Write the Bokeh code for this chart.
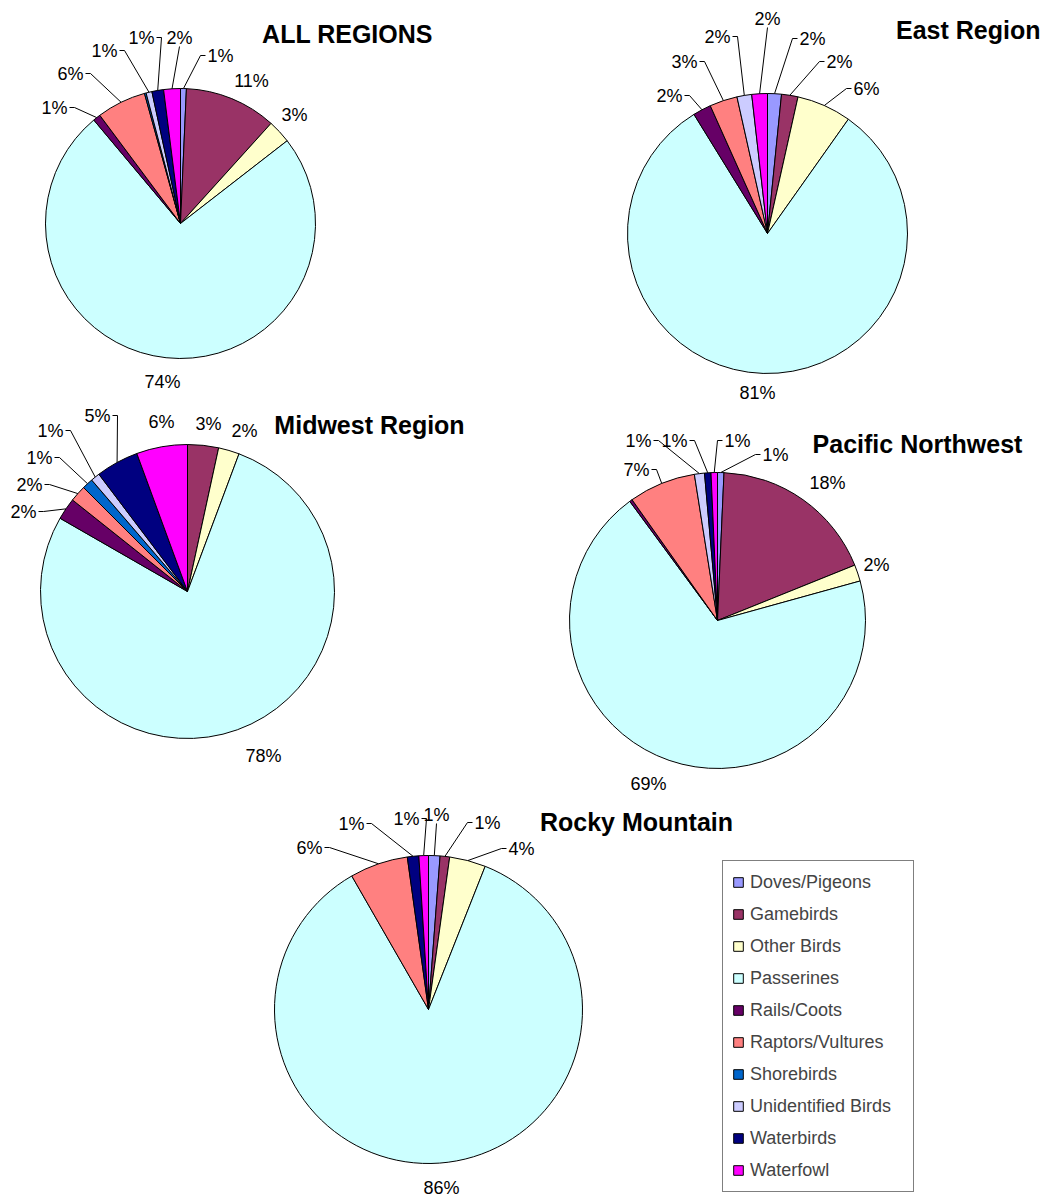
import math
from bokeh.plotting import figure
from bokeh.models import Range1d, ColumnDataSource, Legend, LegendItem
from bokeh.embed import file_html
from bokeh.resources import INLINE
from bokeh.core.properties import value

# ---------------- data ----------------
categories = ["Doves/Pigeons", "Gamebirds", "Other Birds", "Passerines", "Rails/Coots",
              "Raptors/Vultures", "Shorebirds", "Unidentified Birds", "Waterbirds", "Waterfowl"]
colors = ["#9999FF", "#993366", "#FFFFCC", "#CCFFFF", "#660066",
          "#FF8080", "#0066CC", "#CCCCFF", "#000080", "#FF00FF"]

regions = ["ALL REGIONS", "East Region", "Midwest Region", "Pacific Northwest", "Rocky Mountain"]
all_regions = [0.7, 11.0, 2.8, 74.4, 0.9, 5.9, 0.2, 0.7, 1.4, 2.0]
east = [1.6, 1.9, 6.3, 81.4, 2.1, 3.2, 0.0, 1.7, 0.0, 1.8]
midwest = [0.0, 3.4, 2.3, 77.6, 2.4, 1.8, 1.2, 1.0, 4.7, 5.6]
pacific_nw = [0.7, 18.2, 1.8, 69.2, 0.3, 7.3, 0.0, 1.1, 0.7, 0.7]
rocky = [1.2, 1.0, 3.8, 85.7, 0.0, 6.1, 0.0, 0.0, 1.2, 1.0]
values = [all_regions, east, midwest, pacific_nw, rocky]

# ---------------- layout (page pixel coordinates) ----------------
W, H = 1044, 1200
FONT = "Liberation Sans"
pies = [
    dict(c=(180, 223), r=135, title=(347, 33, "center"),
         labels={0: (220, 55, True), 1: (251, 80, False), 2: (294, 114, False), 3: (162, 381, False),
                 4: (54, 107, True), 5: (70, 73, True), 7: (104, 50, True), 8: (141, 37, True),
                 9: (179, 37, True)}),
    dict(c=(767, 233), r=140, title=(1040, 29, "right"),
         labels={0: (812, 38, True), 1: (839, 61, True), 2: (866, 88, True), 3: (757, 392, False),
                 4: (669, 95, True), 5: (684, 61, True), 7: (717, 36, True), 9: (767, 18, True)}),
    dict(c=(187, 591), r=147, title=(369, 424, "center"),
         labels={1: (208, 423, False), 2: (244, 430, False), 3: (263, 755, False), 4: (23, 511, True),
                 5: (29, 484, True), 6: (39, 457, True), 7: (50, 430, True), 8: (97, 415, True),
                 9: (161, 421, False)}),
    dict(c=(717, 620), r=148, title=(917, 443, "center"),
         labels={0: (775, 454, True), 1: (827, 482, False), 2: (876, 564, False), 3: (648, 783, False),
                 5: (636, 469, True), 7: (638, 440, True), 8: (674, 440, True), 9: (737, 440, True)}),
    dict(c=(428, 1009), r=154, title=(636, 821, "center"),
         labels={0: (436, 814, True), 1: (487, 822, True), 2: (521, 848, True), 3: (441, 1187, False),
                 5: (309, 847, True), 8: (351, 823, True), 9: (406, 818, True)}),
]

X0, Y0 = 0, 0  # figure origin on the page


def Y(py):
    return -py


p = figure(width=W, height=H, output_backend="svg", toolbar_location=None,
           x_range=Range1d(X0, X0 + W), y_range=Range1d(-(Y0 + H), -Y0),
           min_border=0, outline_line_color=None)
p.axis.visible = False
p.grid.visible = False
p.background_fill_color = "white"

# wedge data per category (one renderer per category across all pies)
cat_src = {k: dict(x=[], y=[], r=[], sa=[], ea=[]) for k in range(len(categories))}
mids = []
for pi, (pie, vals) in enumerate(zip(pies, values)):
    tot = float(sum(vals))
    cum = 0.0
    m = {}
    for k, v in enumerate(vals):
        f0 = cum / tot
        cum += v
        f1 = cum / tot
        m[k] = (f0 + f1) / 2
        if v <= 0:
            continue
        d = cat_src[k]
        d["x"].append(pie["c"][0])
        d["y"].append(Y(pie["c"][1]))
        d["r"].append(pie["r"])
        d["sa"].append(math.pi / 2 - 2 * math.pi * f0)
        d["ea"].append(math.pi / 2 - 2 * math.pi * f1)
    mids.append(m)

renderers = []
for k in range(len(categories)):
    src = ColumnDataSource(cat_src[k])
    rr = p.wedge(x="x", y="y", radius="r", start_angle="sa", end_angle="ea", direction="clock",
                 source=src, fill_color=colors[k], line_color="black", line_width=1)
    renderers.append(rr)

# labels and leader lines
LFS = 18
lx, ly, lt = [], [], []
lead_xs, lead_ys = [], []
for pi, (pie, vals) in enumerate(zip(pies, values)):
    tot = float(sum(vals))
    cx, cy = pie["c"]
    r = pie["r"]
    for k, (tx, ty, leader) in pie["labels"].items():
        txt = "%d%%" % round(vals[k] / tot * 100)
        lx.append(tx)
        ly.append(Y(ty))
        lt.append(txt)
        if leader:
            th = 2 * math.pi * mids[pi][k]
            px = cx + r * math.sin(th)
            py = cy - r * math.cos(th)
            hw = 0.5 * LFS * 0.556 * (len(txt) - 1) + 0.5 * LFS * 0.889
            if px > tx + hw + 2:
                sx, sy = tx + hw + 2, ty
                ex, ey = sx + 5, sy
            elif px < tx - hw - 2:
                sx, sy = tx - hw - 2, ty
                ex, ey = sx - 5, sy
            else:
                sx, sy = tx, ty + 9
                ex, ey = sx, sy
            lead_xs.append([sx, ex, px])
            lead_ys.append([Y(sy), Y(ey), Y(py)])

p.multi_line(xs=lead_xs, ys=lead_ys, line_color="black", line_width=1)
p.text(x=lx, y=ly, text=lt, text_align="center", text_baseline="middle",
       text_font=value(FONT), text_font_size="%dpx" % LFS, text_color="black")

# titles
for pie, name in zip(pies, regions):
    tx, ty, al = pie["title"]
    p.text(x=[tx], y=[Y(ty)], text=[name], text_align=al, text_baseline="middle",
           text_font=value(FONT), text_font_size="25px", text_font_style="bold", text_color="black")

# legend (box at page x 722..911, y 862..1192)
legend = Legend(items=[LegendItem(label=categories[k], renderers=[renderers[k]]) for k in range(len(categories))],
                location=(722 - X0, (Y0 + H) - 1192), orientation="vertical",
                label_text_font=FONT, label_text_font_size="18px",
                glyph_width=12, glyph_height=12, label_height=24, label_width=154,
                spacing=8, padding=9, label_standoff=6, margin=0,
                border_line_color="black", border_line_width=1,
                background_fill_color="white", background_fill_alpha=1.0)
p.add_layout(legend, "center")

open("out.html", "w").write(file_html(p, INLINE))
